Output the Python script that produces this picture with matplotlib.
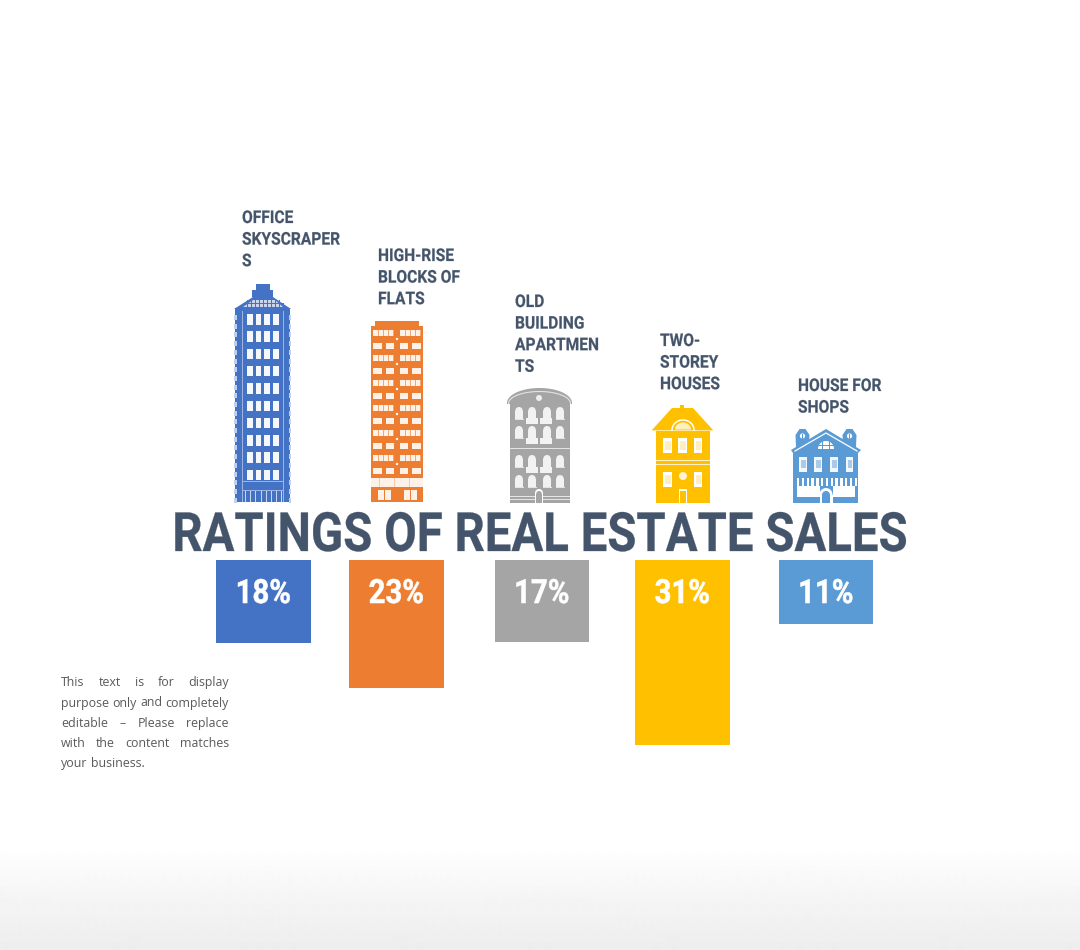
import numpy as np
import matplotlib
matplotlib.use("Agg")
import matplotlib.pyplot as plt
from matplotlib.patches import Rectangle, Polygon, Circle
from matplotlib.patches import Ellipse
from matplotlib.patheffects import AbstractPathEffect
from matplotlib.transforms import Affine2D

# ---------- data ----------
title_text = "RATINGS OF REAL ESTATE SALES"
categories = ["OFFICE\nSKYSCRAPER\nS", "HIGH-RISE\nBLOCKS OF\nFLATS", "OLD\nBUILDING\nAPARTMEN\nTS",
              "TWO-\nSTOREY\nHOUSES", "HOUSE FOR\nSHOPS"]
percent_labels = ["18%", "23%", "17%", "31%", "11%"]
bar_lengths = [83, 128, 81.5, 185, 64]
paragraph = [
    "This text is for display",
    "purpose only and completely",
    "editable – Please replace",
    "with the content matches",
    "your business.",
]

# ---------- style ----------
W, H = 1080, 950
BLUE, ORANGE, GREY, YELLOW, SKY = "#4472C4", "#ED7D31", "#A5A5A5", "#FFC000", "#5B9BD5"
colors = [BLUE, ORANGE, GREY, YELLOW, SKY]
INK = "#44546A"
HEAD = ["Roboto", "DejaVu Sans"]
bar_left = [216, 349, 494.5, 635, 778.5]
bar_width = 94.5
bar_top = 560
label_pos = [(242, 217), (378, 255), (515, 301), (660, 340), (798, 385)]
LINE = 21.6

fig = plt.figure(figsize=(W / 100, H / 100), dpi=100, facecolor="white")
ax = fig.add_axes([0, 0, 1, 1])
ax.set_xlim(0, W)
ax.set_ylim(H, 0)
ax.axis("off")


class Condense(AbstractPathEffect):
    """Narrow the glyphs of a real text about a fixed pixel x and thicken them a little."""

    def __init__(self, anchor_x, sx, bold=0.0):
        super().__init__()
        self.anchor_x, self.sx, self.bold = anchor_x, sx, bold

    def draw_path(self, renderer, gc, tpath, affine, rgbFace=None):
        t = affine + Affine2D().translate(-self.anchor_x, 0).scale(self.sx, 1).translate(self.anchor_x, 0)
        gc0 = renderer.new_gc()
        gc0.copy_properties(gc)
        gc0.set_linewidth(self.bold)
        if self.bold > 0:
            gc0.set_foreground(rgbFace)
        renderer.draw_path(gc0, tpath, t, rgbFace)
        gc0.restore()


# bottom gradient
level = np.clip(np.linspace(0, 1, 100) ** 0.8, 0, 1)
grad = np.repeat((1 - level * 0.07)[:, None], 2, axis=1)
ax.imshow(grad, extent=(0, W, 950, 850), aspect="auto", zorder=0, interpolation="bilinear",
          cmap="gray", vmin=0, vmax=1)
ax.set_xlim(0, W)
ax.set_ylim(H, 0)


def rect(x0, y0, x1, y1, c, z=3, a=1.0):
    ax.add_patch(Rectangle((x0, y0), x1 - x0, y1 - y0, fc=c, ec="none", zorder=z, alpha=a))


def poly(pts, c, z=3, a=1.0):
    ax.add_patch(Polygon(pts, closed=True, fc=c, ec="none", zorder=z, alpha=a))


def arched(cx, y0, y1, w, c="white", z=5):
    rect(cx - w / 2, y0 + w / 2, cx + w / 2, y1, c, z)
    ax.add_patch(Ellipse((cx, y0 + w / 2), w, w, fc=c, ec="none", zorder=z))


def skyscraper():
    c = BLUE
    rect(256, 284, 270, 290, c)
    rect(252, 290, 273, 297, c)
    poly([(234, 309), (253, 297), (273, 297), (291, 309)], c)
    rect(235, 308, 290, 502, c)
    poly([(243, 307), (253, 300), (275, 300), (283, 307)], "#C9D5EE", 4)
    for x in np.arange(247, 282, 4):
        rect(x, 300, x + 1, 307, c, 5)
    rect(243, 303, 284, 304, c, 5)
    rect(242, 311, 243, 502, "#9DB4E2", 4)
    rect(283, 311, 284, 502, "#9DB4E2", 4)
    for r in range(10):
        y = 314 + r * 17.3
        for x0, x1 in [(247, 252.5), (255.5, 261), (264, 270), (273, 279)]:
            rect(x0, y, x1, y + 10.5, "#F4F7FC", 5)
    for y in np.arange(315, 500, 8.7):
        rect(234, y, 236.5, y + 5, "#BFD0EE", 5)
        rect(288.5, y, 291, y + 5, "#BFD0EE", 5)
    rect(243, 481, 284, 482, "#9DB4E2", 4)
    for x in np.arange(245, 284, 5.2):
        rect(x, 491, x + 1, 502, "#C9D5EE", 5)
    rect(243, 490, 284, 491, "#9DB4E2", 4)


def highrise():
    c = ORANGE
    rect(375, 321, 419, 326, c)
    rect(371, 326, 423, 502, c)
    for r in range(6):
        y = 330 + r * 25
        for x0, x1 in [(373, 394), (400, 421)]:
            rect(x0, y, x1, y + 6, "#FDF1E8", 5)
            for x in np.arange(x0 + 5, x1, 5):
                rect(x, y, x + 0.6, y + 6, "#F3A874", 6)
        for x0, x1 in [(373, 382), (386, 394), (400, 408), (412, 421)]:
            rect(x0, y + 12.5, x1, y + 18.5, "#FDF1E8", 5)
        ax.add_patch(Circle((397, y + 9), 1.2, fc="white", ec="none", zorder=5))
    rect(371, 478, 423, 486.5, "#FDF1E8", 5)
    for x in np.arange(379, 423, 7.5):
        rect(x, 478, x + 0.7, 486.5, "#F7C9A8", 6)
    for x0, x1 in [(378, 391), (404, 417)]:
        rect(x0, 490, x1, 500, "#FDF1E8", 5)
        rect((x0 + x1) / 2 - 0.5, 490, (x0 + x1) / 2 + 0.5, 500, c, 6)
        rect(x0, 494.5, x1, 495.3, c, 6)


def oldbuilding():
    c = GREY
    t = np.linspace(0, np.pi, 60)
    poly(np.column_stack([539.5 + 32.5 * np.cos(t), 403 - 15 * np.sin(t)]), c)
    rect(507, 402, 572, 404, c)
    rect(510, 403, 570, 503, c)
    t2 = np.linspace(0, np.pi, 40)
    ax.plot(539.5 + 31 * np.cos(t2), 403.5 - 12 * np.sin(t2), color="#E3E3E3", lw=0.8, zorder=4)
    ax.add_patch(Circle((539, 398), 3, fc="#EDEDED", ec="none", zorder=5))
    for y in [413, 432, 461, 481]:
        for x in [519, 532, 547, 560]:
            arched(x, y - 6, y + 6, 7.5, "#F2F2F2")
            rect(x - 0.4, y - 4, x + 0.4, y + 6, "#C8C8C8", 6)
            rect(x - 4.5, y + 6, x + 4.5, y + 7, "#E3E3E3", 5)
    for y in [420, 440, 469]:
        for x in [532, 546]:
            rect(x - 6, y - 2.5, x + 6, y + 3.5, "#F2F2F2", 6)
            for dx in (-2, 2):
                rect(x + dx - 0.4, y - 2.5, x + dx + 0.4, y + 3.5, c, 7)
    rect(510, 448, 570, 449, "#E3E3E3", 4)
    rect(510, 495.5, 570, 496.5, "#E3E3E3", 4)
    rect(510, 499, 570, 500, "#E3E3E3", 4)
    arched(539, 489, 503, 8, "white")
    arched(539, 491, 503, 5.5, c, 6)


def twostorey():
    c = YELLOW
    rect(680, 405, 684, 409, c)
    poly([(652, 430), (672, 408), (693, 408), (713, 430)], c)
    rect(656, 430, 710, 503, c)
    rect(652, 430, 713, 431, "#FFE69A", 5)
    t = np.linspace(0, np.pi, 40)
    ax.plot(683 + 11 * np.cos(t), 430 - 10 * np.sin(t), color="white", lw=1.1, zorder=5)
    poly(np.column_stack([683 + 8 * np.cos(t), 429.5 - 7 * np.sin(t)]), "#FFF0C2", 5)
    for x0, x1 in [(663, 672), (678, 687), (694, 702)]:
        rect(x0, 438, x1, 453, "white", 5)
        rect(x0 + 1.5, 441, x1 - 1.5, 450, "#FFEFC0", 6)
    rect(656, 459.5, 710, 460.5, "white", 5, 0.8)
    rect(656, 463.5, 710, 464.5, "white", 5, 0.8)
    for x0, x1 in [(663, 672), (694, 702)]:
        rect(x0, 472, x1, 487, "white", 5)
        rect(x0 + 1.5, 475, x1 - 1.5, 484, "#FFEFC0", 6)
    ax.add_patch(Circle((683, 476), 4, fc="#FFF3D0", ec="none", zorder=5))
    rect(679, 489, 687, 503, "white", 5)
    rect(680.2, 490.5, 685.8, 503, c, 6)


def shophouse():
    c = SKY
    for cx in (802.5, 849.5):
        poly([(cx - 7, 435), (cx - 3, 429), (cx + 3, 429), (cx + 7, 435), (cx + 6.5, 447), (cx - 6.5, 447)], c)
        ax.add_patch(Circle((cx, 436), 2.6, fc="white", ec="none", zorder=5))
        rect(cx - 0.3, 433.5, cx + 0.3, 438.5, c, 6)
    poly([(791, 450), (826, 429), (861, 450), (858, 453), (793, 453)], c)
    rect(793, 450, 858, 503, c)
    ax.plot([795, 826, 857], [451, 433, 451], color="white", lw=0.9, zorder=5)
    t = np.linspace(0, np.pi, 30)
    poly(np.column_stack([826 + 8 * np.cos(t), 449 - 8 * np.sin(t)]), "white", 5)
    for x in (822.5, 829.5):
        rect(x - 0.4, 440, x + 0.4, 449, c, 6)
    rect(818, 445, 834, 445.7, c, 6)
    for x0, x1 in [(799, 807), (814, 822), (830, 838), (846, 853)]:
        rect(x0, 457, x1, 472, "#F4F8FC", 5)
        rect(x0 + 1.5, 460, x1 - 1.5, 468, "#A9CBE9", 6)
    for x in np.arange(797, 855, 4.8):
        rect(x, 478, x + 2.4, 486, "white", 5)
    rect(797, 486, 820, 497, "white", 5)
    rect(833, 486, 855, 497, "white", 5)
    arched(826, 488, 503, 13, "white")
    arched(826, 491, 503, 8, c, 6)


for fn in (skyscraper, highrise, oldbuilding, twostorey, shophouse):
    fn()

# bars
bars = ax.bar(bar_left, bar_lengths, width=bar_width, bottom=bar_top, align="edge", color=colors, zorder=3)
for b, lab in zip(bars, percent_labels):
    cx = b.get_x() + b.get_width() / 2
    ax.text(cx, 603, lab, ha="center", va="baseline", color="white", family=HEAD, weight="bold",
            fontsize=24, zorder=6, path_effects=[Condense(cx, 0.88, 0.4)])

# category labels
for (x, y), lab in zip(label_pos, categories):
    for i, line in enumerate(lab.split("\n")):
        ax.text(x, y + i * LINE + 6, line, ha="left", va="baseline", color=INK, family=HEAD,
                weight="bold", fontsize=12.6, zorder=6, path_effects=[Condense(x, 0.89, 0.15)])

# title
ax.text(540, 551, title_text, ha="center", va="baseline", color=INK, family=HEAD, weight="bold",
        fontsize=39, zorder=6, path_effects=[Condense(540, 0.874, 0.2)])

# justified paragraph
renderer = fig.canvas.get_renderer()
PX0, PX1 = 61, 229
for i, line in enumerate(paragraph):
    y = [686, 706.5, 727, 747, 767][i]
    words = line.split(" ")
    arts = [ax.text(0, y, w, family=["Open Sans", "DejaVu Sans"], fontsize=8.9,
                    color="#5A5A5A", va="baseline", zorder=6) for w in words]
    widths = [a.get_window_extent(renderer).width for a in arts]
    if i < len(paragraph) - 1:
        gap = (PX1 - PX0 - sum(widths)) / (len(words) - 1)
    else:
        gap = 3.5
    x = PX0
    for a, wd in zip(arts, widths):
        a.set_x(x)
        x += wd + gap

fig.savefig("out.png", dpi=100)
